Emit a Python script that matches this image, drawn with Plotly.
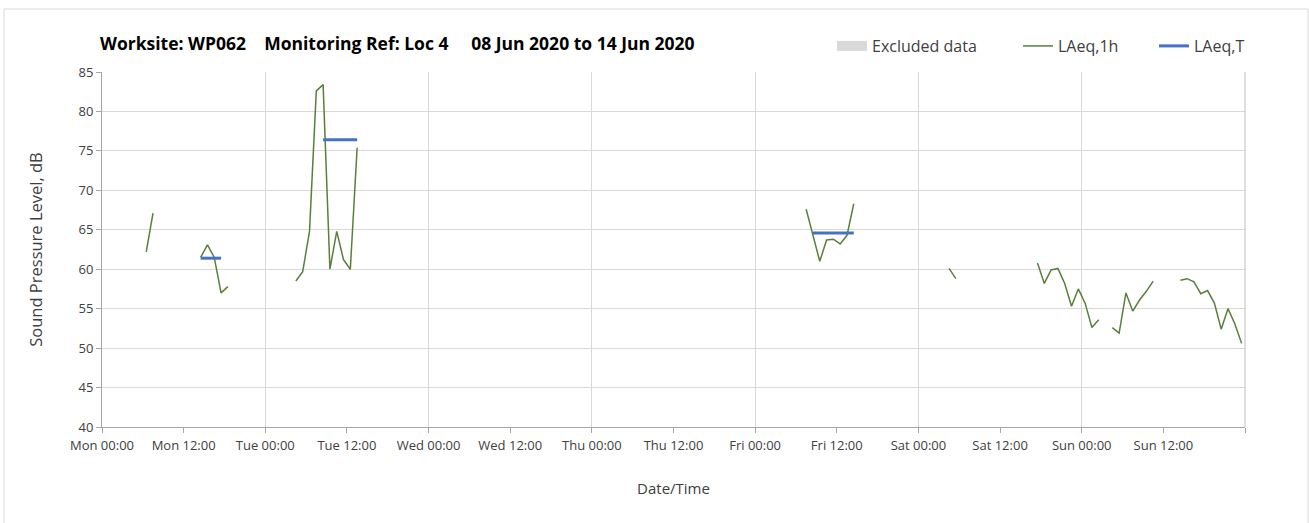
import plotly.graph_objects as go

# LAeq,1h readings (hour-centred timestamps); None marks gaps in the record
times = [
    "2020-06-08 06:30", "2020-06-08 07:30", None,
    "2020-06-08 14:30", "2020-06-08 15:30", "2020-06-08 16:30", "2020-06-08 17:30",
    "2020-06-08 18:30", None,
    "2020-06-09 04:30", "2020-06-09 05:30", "2020-06-09 06:30", "2020-06-09 07:30",
    "2020-06-09 08:30", "2020-06-09 09:30", "2020-06-09 10:30", "2020-06-09 11:30",
    "2020-06-09 12:30", "2020-06-09 13:30", None,
    "2020-06-12 07:30", "2020-06-12 08:30", "2020-06-12 09:30", "2020-06-12 10:30",
    "2020-06-12 11:30", "2020-06-12 12:30", "2020-06-12 13:30", "2020-06-12 14:30", None,
    "2020-06-13 04:30", "2020-06-13 05:30", None,
    "2020-06-13 17:30", "2020-06-13 18:30", "2020-06-13 19:30", "2020-06-13 20:30",
    "2020-06-13 21:30", "2020-06-13 22:30", "2020-06-13 23:30", "2020-06-14 00:30",
    "2020-06-14 01:30", "2020-06-14 02:30", None,
    "2020-06-14 04:30", "2020-06-14 05:30", "2020-06-14 06:30", "2020-06-14 07:30",
    "2020-06-14 08:30", "2020-06-14 09:30", "2020-06-14 10:30", None,
    "2020-06-14 14:30", "2020-06-14 15:30", "2020-06-14 16:30", "2020-06-14 17:30",
    "2020-06-14 18:30", "2020-06-14 19:30", "2020-06-14 20:30", "2020-06-14 21:30",
    "2020-06-14 22:30", "2020-06-14 23:30",
]
laeq_1h = [
    62.2, 67.1, None,
    61.5, 63.1, 61.5, 57.0,
    57.8, None,
    58.5, 59.7, 64.8, 82.6,
    83.4, 60.0, 64.8, 61.2,
    60.0, 75.4, None,
    67.6, 64.3, 61.0, 63.7,
    63.8, 63.2, 64.3, 68.3, None,
    60.1, 58.8, None,
    60.8, 58.2, 59.9, 60.1,
    58.2, 55.3, 57.5, 55.7,
    52.6, 53.6, None,
    52.6, 51.9, 57.0, 54.7,
    56.1, 57.2, 58.5, None,
    58.6, 58.8, 58.4, 56.9,
    57.3, 55.7, 52.4, 55.0,
    53.1, 50.6,
]

# LAeq,T period averages
period_start = ["2020-06-08 14:30", "2020-06-09 08:30", "2020-06-12 08:30"]
period_end = ["2020-06-08 17:30", "2020-06-09 13:30", "2020-06-12 14:30"]
laeq_t = [61.4, 76.4, 64.6]

# no excluded periods this week: a single off-scale point keeps the legend entry
excluded_x = ["2020-06-08 00:00"]
excluded_y = [0]

tick_vals = [f"2020-06-{d:02d} {h:02d}:00" for d in range(8, 15) for h in (0, 12)]
tick_text = [f"{day} {h:02d}:00"
             for day in ["Mon", "Tue", "Wed", "Thu", "Fri", "Sat", "Sun"] for h in (0, 12)]

font = "Open Sans, Lato, sans-serif"
W, H = 1309, 523
L, R, T, B = 102, 64, 72, 96
pw, ph = W - L - R, H - T - B

fig = go.Figure()

fig.add_trace(go.Scatter(
    x=excluded_x, y=excluded_y, mode="lines", name="Excluded data",
    line=dict(color="#d9d9d9", width=12), legend="legend", hoverinfo="skip",
    showlegend=True))

fig.add_trace(go.Scatter(
    x=times, y=laeq_1h, mode="lines", name="LAeq,1h",
    line=dict(color="#5a7f3c", width=1.5), connectgaps=False, legend="legend2"))

tx, ty = [], []
for s, e, v in zip(period_start, period_end, laeq_t):
    tx += [s, e, None]
    ty += [v, v, None]
fig.add_trace(go.Scatter(
    x=tx, y=ty, mode="lines", name="LAeq,T",
    line=dict(color="#4472c4", width=3), legend="legend3"))

leg = dict(orientation="h", yanchor="middle", y=1 + (T - 46) / ph,
           font=dict(family=font, size=16, color="#404040"),
           bgcolor="rgba(0,0,0,0)", itemwidth=30)


def px_x(p):
    return (p - L) / pw


def px_y(p):
    return (H - B - p) / ph


fig.update_layout(
    width=W, height=H, showlegend=True,
    paper_bgcolor="white", plot_bgcolor="white",
    margin=dict(l=L, r=R, t=T, b=B),
    font=dict(family=font, color="#595959"),
    title=dict(
        text="<b>Worksite: WP062&nbsp;&nbsp;&nbsp; Monitoring Ref: Loc 4&nbsp;&nbsp;&nbsp;&nbsp; "
             "08 Jun 2020 to 14 Jun 2020</b>",
        x=100 / W, xanchor="left", y=1 - 44 / H, yanchor="middle",
        font=dict(family=font, size=17.5, color="#000000")),
    legend=dict(leg, x=px_x(838 - 6)),
    legend2=dict(leg, x=px_x(1024 - 6)),
    legend3=dict(leg, x=px_x(1160 - 6)),
    xaxis=dict(
        type="date", range=["2020-06-08 00:00", "2020-06-15 00:00"],
        tickvals=tick_vals, ticktext=tick_text, ticks="outside", ticklen=5,
        tickcolor="#a6a6a6", tickfont=dict(size=13, color="#404040"),
        ticklabelstandoff=1,
        showgrid=False, showline=True, linecolor="#a6a6a6",
        minor=dict(dtick=86400000, tick0="2020-06-08", showgrid=True,
                   gridcolor="#d9d9d9", gridwidth=1, ticks="outside", ticklen=5,
                   tickcolor="#a6a6a6"),
        title=dict(text="Date/Time", standoff=30,
                   font=dict(size=15, color="#404040")),
        zeroline=False,
    ),
    yaxis=dict(
        range=[40, 85], dtick=5, ticks="outside", ticklen=5, tickcolor="#a6a6a6",
        tickfont=dict(size=13, color="#404040"),
        showgrid=True, gridcolor="#d9d9d9", gridwidth=1,
        showline=True, linecolor="#a6a6a6", zeroline=False,
        title=dict(text="Sound Pressure Level, dB", standoff=31,
                   font=dict(size=16.5, color="#404040")),
    ),
    shapes=[
        dict(type="line", xref="paper", yref="paper", x0=1, x1=1, y0=0, y1=1,
             line=dict(color="#bfbfbf", width=1)),
        dict(type="rect", xref="paper", yref="paper",
             x0=px_x(4), x1=px_x(1308), y0=px_y(535), y1=px_y(9),
             line=dict(color="#d9d9d9", width=1)),
    ],
)

fig.write_html("out.html", config={"displayModeBar": False},
               post_script="document.body.style.margin='0';")
